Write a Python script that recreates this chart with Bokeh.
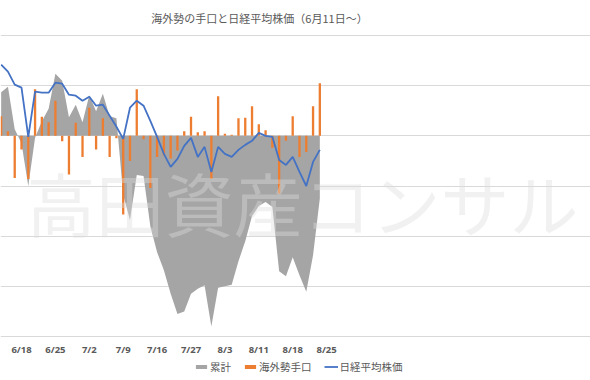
from bokeh.plotting import figure
from bokeh.models import Range1d, FixedTicker, Label, Legend, LegendItem
from bokeh.embed import file_html
from bokeh.resources import INLINE

title_text = "海外勢の手口と日経平均株価（6月11日～）"
watermark_text = "高田資産コンサル"
series_names = ["累計", "海外勢手口", "日経平均株価"]

# trading-day index (0 = first visible day)
day_index = list(range(48))
tick_index = [3, 8, 13, 18, 23, 28, 33, 38, 43, 48]
tick_labels = ["6/18", "6/25", "7/2", "7/9", "7/16", "7/27", "8/3", "8/11", "8/18", "8/25"]

# daily net trades of foreign investors
foreign_flow = [390, 90, -840, -270, -860, 930, 380, 270, 700, -110,
                -770, 260, -420, 560, -270, 350, -420, -50, -1570, -500,
                930, -70, -1040, -420, -390, -450, -290, 90, 380, 70,
                90, -860, 790, 40, 20, 350, 360, 590, 230, 110,
                -240, -1150, -100, 390, -420, -320, 590, 1050]

# cumulative total
cumulative = [870, 980, 130, -150, -1000, -40, 290, 540, 1240, 1100,
              370, 620, 270, 810, 490, 840, 390, 350, -1180, -1680,
              -780, -800, -1800, -2320, -2680, -3150, -3550, -3500, -3150, -3050,
              -2980, -3800, -3030, -3000, -2970, -2500, -2100, -1600, -1400, -1320,
              -1420, -2700, -2800, -2420, -2780, -3110, -2380, -1250]

# Nikkei average
nikkei = [22710, 22640, 22510, 22480, 21990, 22440, 22430, 22430, 22530, 22520,
          22410, 22400, 22350, 22390, 22300, 22310, 22200, 22090, 21970, 22280,
          22350, 22300, 22150, 21990, 21820, 21690, 21770, 21900, 21980, 21790,
          21890, 21640, 21890, 21820, 21790, 21860, 21910, 21950, 22030, 22000,
          21990, 21760, 21710, 21790, 21640, 21500, 21740, 21860]

grid_ticks = [-4000, -3000, -2000, -1000, 0, 1000, 2000]

text_gray = "#595959"
cjk = "Noto Sans CJK JP"

p = figure(width=590, height=380, title=None,
           x_range=Range1d(-0.0973, 86.92), y_range=Range1d(-4877.1, 2697.7),
           toolbar_location=None, output_backend="svg",
           min_border=0, min_border_left=0, min_border_right=0,
           min_border_top=0, min_border_bottom=0)
p.outline_line_color = None
p.background_fill_color = "white"
p.border_fill_color = "white"

p.extra_y_ranges = {"nk": Range1d(19561.5, 23348.8)}

p.yaxis.ticker = FixedTicker(ticks=grid_ticks)
p.ygrid.ticker = FixedTicker(ticks=grid_ticks)
p.yaxis.visible = False
p.ygrid.grid_line_color = "#d9d9d9"
p.ygrid.grid_line_width = 1
p.xgrid.visible = False

xa = p.xaxis[0]
xa.fixed_location = -4000
xa.ticker = FixedTicker(ticks=tick_index)
xa.major_label_overrides = dict(zip(tick_index, tick_labels))
xa.axis_line_color = None
xa.major_tick_line_color = None
xa.minor_tick_line_color = None
xa.major_tick_out = 0
xa.major_tick_in = 0
xa.minor_tick_out = 0
xa.major_label_text_font = "Noto Sans"
xa.major_label_text_font_size = "9.5px"
xa.major_label_text_font_style = "bold"
xa.major_label_text_color = text_gray
xa.major_label_standoff = 7

area = p.varea(x=day_index, y1=0, y2=cumulative, fill_color="#a5a5a5")
bars = p.vbar(x=day_index, top=foreign_flow, bottom=0, width=0.34,
              fill_color="#ed7d31", line_color=None)
line = p.line(x=day_index, y=nikkei, y_range_name="nk",
              line_color="#4472c4", line_width=1.8)

legend = Legend(items=[LegendItem(label=series_names[0], renderers=[area]),
                       LegendItem(label=series_names[1], renderers=[bars]),
                       LegendItem(label=series_names[2], renderers=[line])],
                location=(194, 6), orientation="horizontal",
                padding=0, margin=0, spacing=12, label_standoff=2,
                glyph_width=14, glyph_height=5, label_height=12,
                label_text_font=cjk, label_text_font_size="10.5px",
                label_text_color=text_gray,
                background_fill_alpha=0, border_line_color=None)
p.add_layout(legend)

p.add_layout(Label(x=259, y=363, x_units="screen", y_units="screen",
                   text=title_text, text_font=cjk, text_font_size="11px",
                   text_color=text_gray, text_align="center", text_baseline="middle"))

p.add_layout(Label(x=26, y=179, x_units="screen", y_units="screen",
                   text=watermark_text, text_font=cjk, text_font_size="69px",
                   text_color="#dcdcdc", text_alpha=0.4,
                   text_align="left", text_baseline="middle"))

open("out.html", "w").write(file_html(p, INLINE))
